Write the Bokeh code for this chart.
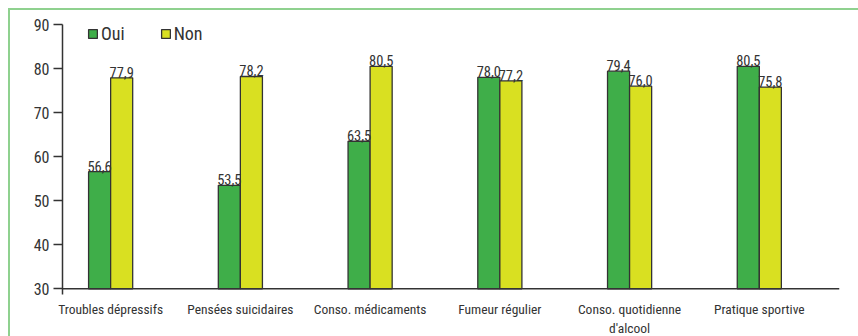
from bokeh.plotting import figure
from bokeh.models import ColumnDataSource, Range1d, FixedTicker, Legend, LegendItem, Span
from bokeh.transform import dodge
from bokeh.core.properties import value
from bokeh.embed import file_html
from bokeh.resources import INLINE

# Data
categories = ["Troubles dépressifs", "Pensées suicidaires", "Conso. médicaments",
              "Fumeur régulier", "Conso. quotidienne\nd'alcool", "Pratique sportive"]
oui = [56.6, 53.5, 63.5, 78.0, 79.4, 80.5]
non = [77.9, 78.2, 80.5, 77.2, 76.0, 75.8]
y_ticks = [30, 40, 50, 60, 70, 80, 90]
BASE = 30

FONT = ("Roboto Condensed, Noto Sans ExtraCondensed, Noto Sans Condensed, "
        "Liberation Sans Narrow, DejaVu Sans Condensed, sans-serif")
GREEN = "#3fae49"
YELLOW = "#d9e021"
INK = "#333333"
FRAME = "#8fd18f"


def fmt(v):
    return f"{v:.1f}".replace(".", ",")


src = ColumnDataSource(dict(
    x=list(range(len(categories))),
    oui=oui, non=non,
    oui_lbl=[fmt(v) for v in oui],
    non_lbl=[fmt(v) for v in non],
))

# The panel carries a light green rule on its top and left edges
p = figure(width=850, height=328, output_backend="svg", toolbar_location=None,
           x_range=Range1d(-0.371, 5.618), y_range=Range1d(28.71, 92.27),
           min_border_left=52, min_border_right=21, min_border_top=4, min_border_bottom=42)
p.styles = {"border-top": f"2px solid {FRAME}", "border-left": f"2px solid {FRAME}",
            "margin-top": "8px", "margin-left": "8px"}
p.outline_line_color = None
p.grid.visible = False
p.background_fill_color = "white"
p.border_fill_color = "white"

bw = 0.17
off = bw / 2
r_oui = p.vbar(x=dodge("x", -off, range=p.x_range), top="oui", bottom=BASE, width=bw,
               source=src, fill_color=GREEN, line_color=INK, line_width=1.3)
r_non = p.vbar(x=dodge("x", off, range=p.x_range), top="non", bottom=BASE, width=bw,
               source=src, fill_color=YELLOW, line_color=INK, line_width=1.3)

for col, lbl, dx in (("oui", "oui_lbl", -off), ("non", "non_lbl", off)):
    p.text(x=dodge("x", dx, range=p.x_range), y=col, text=lbl, source=src,
           text_align="center", text_baseline="bottom", y_offset=0,
           text_font=value(FONT), text_font_size="14.5px", text_color=INK)

# Baseline of the bars
p.add_layout(Span(location=BASE, dimension="width", line_color=INK, line_width=1.5))

# Axes
xa = p.xaxis[0]
xa.ticker = FixedTicker(ticks=list(range(len(categories))))
xa.major_label_overrides = {i: c for i, c in enumerate(categories)}
xa.major_tick_line_color = None
xa.minor_tick_line_color = None
xa.axis_line_color = None
xa.major_label_text_font = FONT
xa.major_label_text_font_size = "13.5px"
xa.major_label_text_color = INK
xa.major_label_standoff = 0

ya = p.yaxis[0]
ya.ticker = FixedTicker(ticks=y_ticks)
ya.bounds = (28.71, 90)
ya.minor_tick_line_color = None
ya.major_tick_in = 0
ya.major_tick_out = 9
ya.major_tick_line_color = INK
ya.major_tick_line_width = 1.3
ya.axis_line_color = INK
ya.axis_line_width = 1.5
ya.major_label_text_font = FONT
ya.major_label_text_font_size = "16px"
ya.major_label_text_color = INK
ya.major_label_standoff = 4

# Legend
legend = Legend(items=[LegendItem(label="Oui", renderers=[r_oui]),
                       LegendItem(label="Non", renderers=[r_non])],
                orientation="horizontal", location=(25, 250),
                glyph_width=11, glyph_height=11, label_standoff=3, spacing=35,
                padding=0, margin=0, border_line_color=None, background_fill_alpha=0,
                label_text_font=FONT, label_text_font_size="18px", label_text_color=INK,
                label_height=20)
p.add_layout(legend)

open("out.html", "w").write(file_html(p, INLINE))
